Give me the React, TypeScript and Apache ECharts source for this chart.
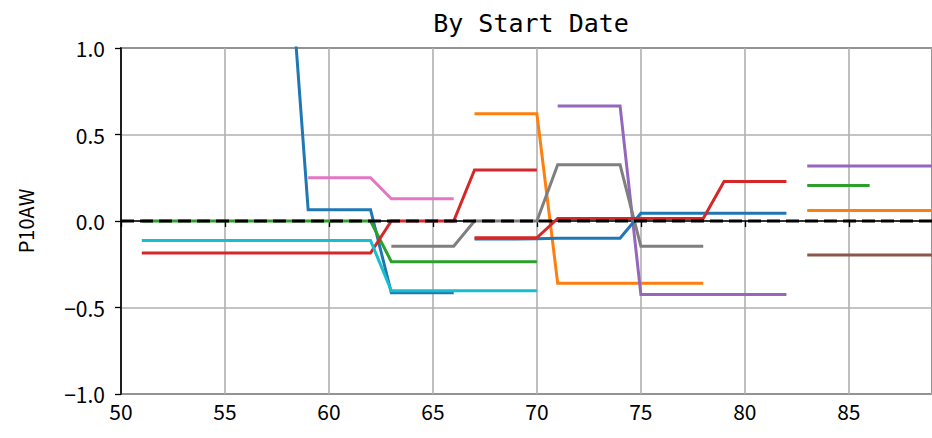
import React, { useEffect, useRef } from "react";
import * as echarts from "echarts";

// x positions: start date index (each series begins at `start`, consecutive x)
const blueAStart = 58;
const blueA = [1.7, 0.065, 0.065, 0.065, 0.065, -0.415, -0.415, -0.415, -0.415];
const orangeAStart = 67;
const orangeA = [0.62, 0.62, 0.62, 0.62, -0.36, -0.36, -0.36, -0.36, -0.36, -0.36, -0.36, -0.36];
const greenAStart = 51;
const greenA = [0, 0, 0, 0, 0, 0, 0, 0, 0, 0, 0, 0, -0.235, -0.235, -0.235, -0.235, -0.235, -0.235, -0.235, -0.235];
const redAStart = 51;
const redA = [-0.185, -0.185, -0.185, -0.185, -0.185, -0.185, -0.185, -0.185, -0.185, -0.185, -0.185, -0.185, 0, 0, 0, 0, 0.295, 0.295, 0.295, 0.295];
const purpleAStart = 71;
const purpleA = [0.665, 0.665, 0.665, 0.665, -0.425, -0.425, -0.425, -0.425, -0.425, -0.425, -0.425, -0.425];
const pinkStart = 59;
const pink = [0.25, 0.25, 0.25, 0.25, 0.128, 0.128, 0.128, 0.128];
const grayStart = 63;
const gray = [-0.146, -0.146, -0.146, -0.146, 0, 0, 0, 0, 0.325, 0.325, 0.325, 0.325, -0.146, -0.146, -0.146, -0.146];
const cyanStart = 51;
const cyan = [-0.113, -0.113, -0.113, -0.113, -0.113, -0.113, -0.113, -0.113, -0.113, -0.113, -0.113, -0.113, -0.403, -0.403, -0.403, -0.403, -0.403, -0.403, -0.403, -0.403];
const blueBStart = 67;
const blueB = [-0.104, -0.104, -0.104, -0.102, -0.1, -0.1, -0.1, -0.1, 0.045, 0.045, 0.045, 0.045, 0.045, 0.045, 0.045, 0.045];
const orangeBStart = 83;
const orangeB = [0.06, 0.06, 0.06, 0.06, 0.06, 0.06, 0.06];
const greenBStart = 83;
const greenB = [0.205, 0.205, 0.205, 0.205];
const redBStart = 67;
const redB = [-0.097, -0.097, -0.097, -0.097, 0.015, 0.015, 0.015, 0.015, 0.015, 0.015, 0.015, 0.015, 0.228, 0.228, 0.228, 0.228];
const purpleBStart = 83;
const purpleB = [0.318, 0.318, 0.318, 0.318, 0.318, 0.318, 0.318];
const brownBStart = 83;
const brownB = [-0.197, -0.197, -0.197, -0.197, -0.197, -0.197, -0.197];

const xTicks = [50, 55, 60, 65, 70, 75, 80, 85];
const yTicks = [-1.0, -0.5, 0.0, 0.5, 1.0];

const COLORS = {
  blue: "#1f77b4",
  orange: "#ff7f0e",
  green: "#2ca02c",
  red: "#d62728",
  purple: "#9467bd",
  brown: "#8c564b",
  pink: "#e377c2",
  gray: "#7f7f7f",
  cyan: "#17becf",
};

const FONT = "Noto Sans CJK JP";

function toPairs(start: number, vals: number[]) {
  return vals.map((v, i) => [start + i, v]);
}

export default function App() {
  const ref = useRef<HTMLDivElement>(null);
  useEffect(() => {
    if (!ref.current) return;
    const chart = echarts.init(ref.current, undefined, { renderer: "svg" });
    const mk = (name: string, start: number, vals: number[], color: string) => ({
      name,
      type: "line",
      data: toPairs(start, vals),
      showSymbol: false,
      symbol: "none",
      clip: true,
      silent: true,
      lineStyle: { color, width: 3, join: "miter" },
      itemStyle: { color },
      emphasis: { disabled: true },
    });
    chart.setOption({
      animation: false,
      title: {
        text: "By Start Date",
        left: 526,
        top: 6,
        textAlign: "center",
        textStyle: { fontFamily: "DejaVu Sans Mono", fontSize: 25, fontWeight: "normal", color: "#000" },
      },
      grid: {
        left: 121,
        top: 48,
        width: 811,
        height: 346,
        show: true,
        borderColor: "#000",
        borderWidth: 1.6,
        backgroundColor: "transparent",
      },
      xAxis: {
        type: "value",
        min: 50,
        max: 89,
        interval: 5,
        axisLine: { show: true, lineStyle: { color: "#000", width: 1.6 } },
        axisTick: { show: true, inside: false, length: 6, lineStyle: { color: "#000", width: 1.3 } },
        axisLabel: {
          color: "#000",
          fontSize: 21,
          fontFamily: FONT,
          margin: 6,
          showMaxLabel: false,
          formatter: (v: number) => (xTicks.includes(v) ? String(v) : ""),
        },
        splitLine: { show: true, lineStyle: { color: "#b0b0b0", width: 1.6 } },
      },
      yAxis: {
        type: "value",
        min: -1,
        max: 1,
        interval: 0.5,
        name: "P10AW",
        nameLocation: "middle",
        nameGap: 86,
        nameRotate: 90,
        nameTextStyle: { color: "#000", fontSize: 20, fontFamily: FONT },
        axisLine: { show: true, onZero: false, lineStyle: { color: "#000", width: 1.6 } },
        axisTick: { show: true, inside: false, length: 6, lineStyle: { color: "#000", width: 1.3 } },
        axisLabel: {
          color: "#000",
          fontSize: 21,
          fontFamily: FONT,
          margin: 16,
          formatter: (v: number) => {
            const t = yTicks.find((y) => Math.abs(y - v) < 1e-9);
            if (t === undefined) return "";
            const s = Math.abs(t).toFixed(1);
            return t < 0 ? "\u2212" + s : s;
          },
        },
        splitLine: { show: true, lineStyle: { color: "#b0b0b0", width: 1.6 } },
      },
      series: [
        mk("blueA", blueAStart, blueA, COLORS.blue),
        mk("orangeA", orangeAStart, orangeA, COLORS.orange),
        mk("greenA", greenAStart, greenA, COLORS.green),
        mk("redA", redAStart, redA, COLORS.red),
        mk("purpleA", purpleAStart, purpleA, COLORS.purple),
        mk("pink", pinkStart, pink, COLORS.pink),
        mk("gray", grayStart, gray, COLORS.gray),
        mk("cyan", cyanStart, cyan, COLORS.cyan),
        mk("blueB", blueBStart, blueB, COLORS.blue),
        mk("orangeB", orangeBStart, orangeB, COLORS.orange),
        mk("greenB", greenBStart, greenB, COLORS.green),
        mk("redB", redBStart, redB, COLORS.red),
        mk("purpleB", purpleBStart, purpleB, COLORS.purple),
        mk("brownB", brownBStart, brownB, COLORS.brown),
        {
          name: "zero",
          type: "line",
          data: [[50, 0], [89, 0]],
          showSymbol: false,
          symbol: "none",
          silent: true,
          lineStyle: { color: "#000", width: 3.2, type: [13, 6] },
          emphasis: { disabled: true },
        },
      ],
    });
    return () => chart.dispose();
  }, []);
  return (
    <div
      ref={ref}
      style={{ position: "fixed", left: 0, top: 0, width: 932, height: 438, background: "#fff" }}
    />
  );
}
